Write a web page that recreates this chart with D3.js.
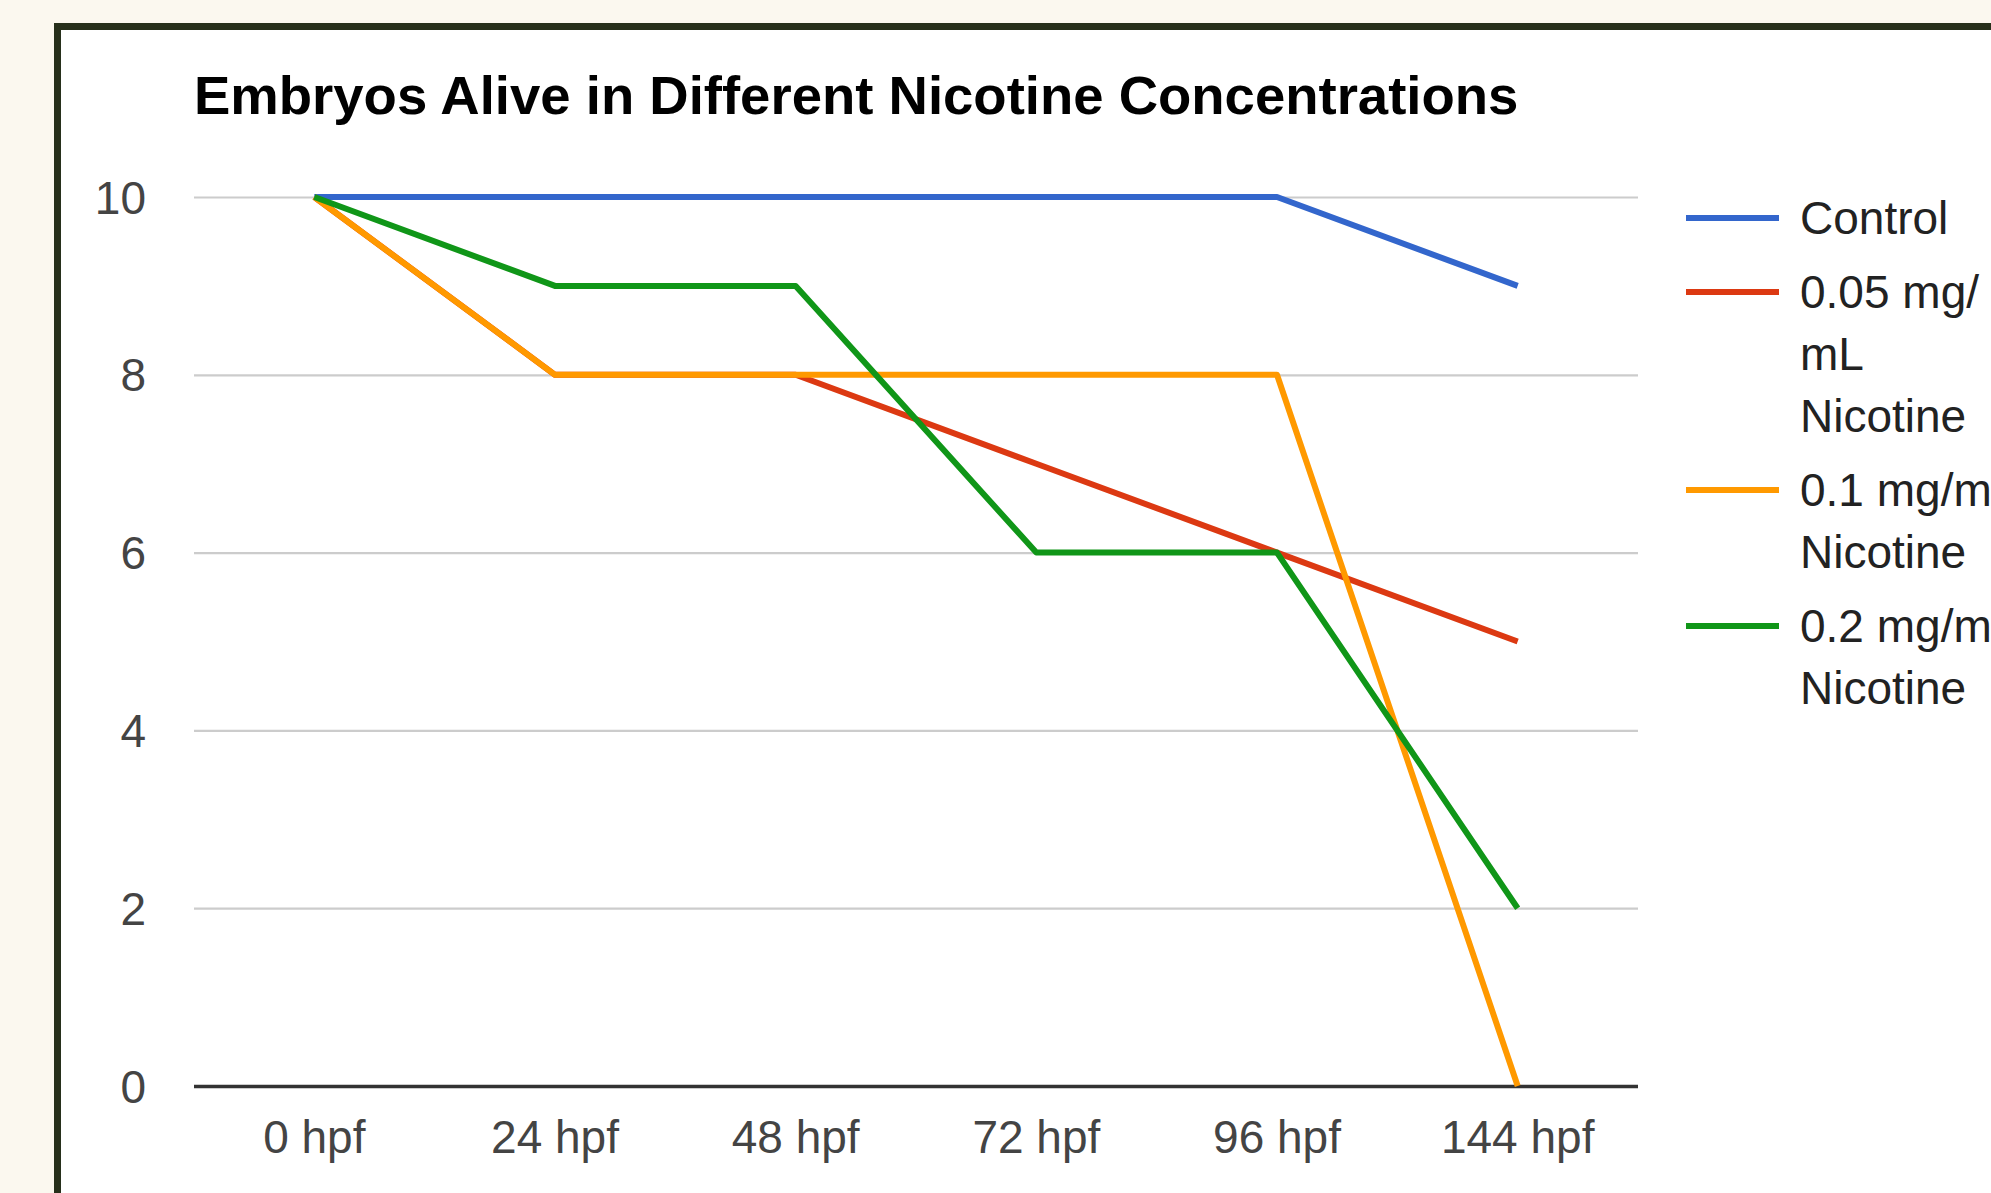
<!DOCTYPE html>
<html>
<head>
<meta charset="utf-8">
<script src="https://cdn.jsdelivr.net/npm/d3@7"></script>
<style>
  html, body { margin: 0; padding: 0; background: #fbf8ef; overflow: hidden; }
  svg { display: block; }
</style>
</head>
<body>
<svg id="chart" width="1991" height="1193"></svg>
<script>
const title = "Embryos Alive in Different Nicotine Concentrations";
const categories = ["0 hpf", "24 hpf", "48 hpf", "72 hpf", "96 hpf", "144 hpf"];
const yTicks = [0, 2, 4, 6, 8, 10];
const seriesNames = ["Control", "0.05 mg/mL Nicotine", "0.1 mg/mL Nicotine", "0.2 mg/mL Nicotine"];
const legendLines = [["Control"], ["0.05 mg/", "mL", "Nicotine"], ["0.1 mg/mL", "Nicotine"], ["0.2 mg/mL", "Nicotine"]];
const control   = [10, 10, 10, 10, 10, 9];
const nic005    = [10, 8, 8, 7, 6, 5];
const nic01     = [10, 8, 8, 8, 8, 0];
const nic02     = [10, 9, 9, 6, 6, 2];
const colors = ["#3366cc", "#dc3912", "#ff9900", "#109618"];

const seriesValues = [control, nic005, nic01, nic02];

const svg = d3.select("#chart");
const font = "'Liberation Sans', Arial, sans-serif";

// frame
svg.append("rect")
  .attr("x", 57.5).attr("y", 26.5)
  .attr("width", 2100).attr("height", 1400)
  .attr("fill", "#ffffff")
  .attr("stroke", "#27301b").attr("stroke-width", 7);

// title
svg.append("text")
  .attr("x", 194).attr("y", 114)
  .attr("font-family", font).attr("font-size", 54.5).attr("font-weight", "bold")
  .attr("fill", "#000")
  .text(title);

const plotLeft = 194, plotRight = 1638, plotTop = 197, plotBottom = 1086;

const x = d3.scaleBand().domain(categories).range([plotLeft, plotRight]).padding(0);
const y = d3.scaleLinear().domain([0, 10]).range([plotBottom, plotTop]);
const cx = c => x(c) + x.bandwidth() / 2;

// y axis with gridlines
const yAxis = svg.append("g")
  .attr("transform", `translate(${plotLeft},0)`)
  .call(d3.axisLeft(y).tickValues(yTicks).tickSize(-(plotRight - plotLeft)).tickPadding(48).tickFormat(d3.format("d")));
yAxis.select(".domain").remove();
yAxis.selectAll(".tick line")
  .attr("stroke", d => d === 0 ? "#333333" : "#cccccc")
  .attr("stroke-width", d => d === 0 ? 3.5 : 2.2);
yAxis.selectAll(".tick text")
  .attr("font-family", font).attr("font-size", 46).attr("fill", "#444444")
  .attr("dy", "0.35em");
yAxis.selectAll(".tick").filter(d => d === 0).raise();

// x axis labels
const xAxis = svg.append("g")
  .attr("transform", `translate(0,${plotBottom})`)
  .call(d3.axisBottom(x).tickSize(0).tickPadding(0));
xAxis.select(".domain").remove();
xAxis.selectAll(".tick text")
  .attr("font-family", font).attr("font-size", 46).attr("fill", "#444444")
  .attr("y", 67).attr("dy", 0);

// lines
const line = d3.line()
  .x((d, i) => cx(categories[i]))
  .y(d => y(d));

const linesG = svg.append("g");
seriesValues.forEach((vals, si) => {
  linesG.append("path")
    .datum(vals)
    .attr("d", line)
    .attr("fill", "none")
    .attr("stroke", colors[si])
    .attr("stroke-width", 6)
    .attr("stroke-linejoin", "round")
    .attr("stroke-linecap", "butt");
});

// legend
const legend = svg.append("g");
let ly = 218;
legendLines.forEach((lines, si) => {
  legend.append("line")
    .attr("x1", 1686).attr("x2", 1779)
    .attr("y1", ly).attr("y2", ly)
    .attr("stroke", colors[si]).attr("stroke-width", 6);
  lines.forEach((t, li) => {
    legend.append("text")
      .attr("x", 1800).attr("y", ly + li * 62)
      .attr("dy", "0.35em")
      .attr("font-family", font).attr("font-size", 46).attr("fill", "#222222")
      .text(t);
  });
  ly += (lines.length - 1) * 62 + 74;
});
</script>
</body>
</html>
